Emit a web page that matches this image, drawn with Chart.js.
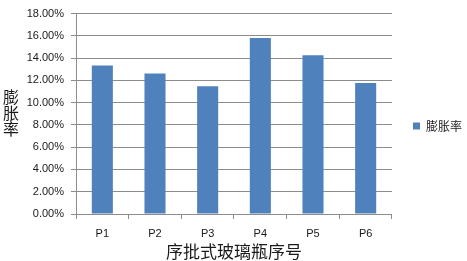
<!DOCTYPE html>
<html><head><meta charset="utf-8">
<script src="https://cdn.jsdelivr.net/npm/chart.js@4/dist/chart.umd.min.js"></script>
<style>html,body{margin:0;padding:0;background:#fff}#wrap{width:467px;height:261px}</style>
</head><body>
<div id="wrap"><canvas id="c" width="467" height="261"></canvas></div>
<script>
const categories = ['P1', 'P2', 'P3', 'P4', 'P5', 'P6'];
const seriesName = '膨胀率';
const values = [13.33, 12.63, 11.48, 15.80, 14.27, 11.77];
const yMin = 0, yMax = 18, yStep = 2;
const xTitle = '序批式玻璃瓶序号';
const yTitle = '膨胀率';

const gridColor = '#8c8c8c';
const textColor = '#1a1a1a';
const cjk = '"Noto Sans CJK SC", sans-serif';

const yTitlePlugin = {
  id: 'yTitleStacked',
  afterDraw(chart) {
    const ctx = chart.ctx;
    ctx.save();
    ctx.font = '16px ' + cjk;
    ctx.fillStyle = textColor;
    ctx.textAlign = 'center';
    ctx.textBaseline = 'middle';
    const chars = Array.from(yTitle);
    const cy = (chart.chartArea.top + chart.chartArea.bottom) / 2;
    const step = 16;
    chars.forEach((ch, i) => {
      ctx.fillText(ch, 11, cy - 1 + (i - (chars.length - 1) / 2) * step);
    });
    ctx.restore();
  }
};

new Chart(document.getElementById('c'), {
  type: 'bar',
  data: {
    labels: categories,
    datasets: [{
      label: seriesName,
      data: values,
      backgroundColor: '#4f81bd',
      borderWidth: 0,
      categoryPercentage: 1.0,
      barPercentage: 0.4
    }]
  },
  options: {
    responsive: false,
    devicePixelRatio: 1,
    animation: false,
    layout: { padding: { top: 9, right: -5, bottom: 0, left: 0 } },
    plugins: {
      legend: {
        position: 'right',
        fullSize: false,
        title: { display: true, text: ' ', font: { size: 12 }, padding: 5 },
        labels: {
          boxWidth: 7, boxHeight: 7, padding: 21,
          color: textColor,
          font: { family: cjk, size: 12 }
        }
      },
      tooltip: { enabled: false }
    },
    scales: {
      x: {
        grid: { display: true, drawOnChartArea: false, drawTicks: true, tickLength: 5, color: gridColor, offset: true },
        border: { display: true, color: gridColor },
        ticks: { color: textColor, font: { family: 'Liberation Sans', size: 11 }, padding: 8, maxRotation: 0 },
        title: { display: true, text: xTitle, color: textColor, font: { family: cjk, size: 17 }, padding: { top: 0, bottom: -1 } },
        afterFit(s) { s.height = 47; }
      },
      y: {
        min: yMin, max: yMax,
        grid: { color: gridColor, tickLength: 5, drawTicks: true },
        border: { display: true, color: gridColor },
        ticks: {
          stepSize: yStep, padding: 7, color: textColor,
          font: { family: 'Liberation Sans', size: 11 },
          callback: v => v.toFixed(2) + '%'
        },
        afterFit(s) { s.width = 76; }
      }
    }
  },
  plugins: [yTitlePlugin]
});
</script>
</body></html>
